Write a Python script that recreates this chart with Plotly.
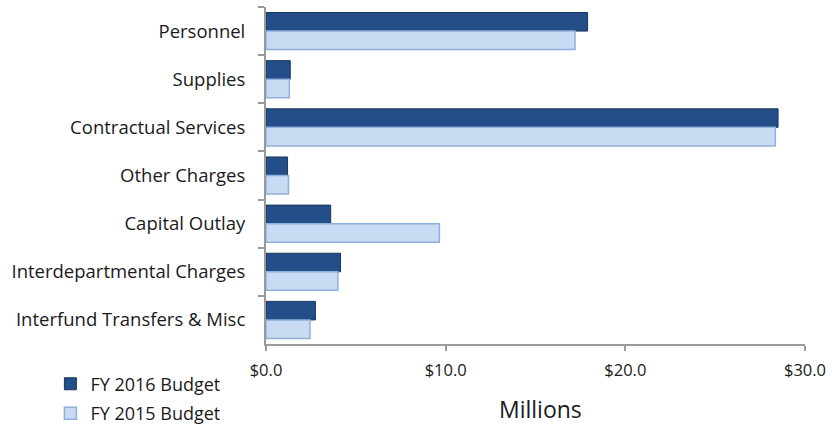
import plotly.graph_objects as go

# Budget categories (top to bottom) and amounts in millions of dollars
categories = [
    "Personnel",
    "Supplies",
    "Contractual Services",
    "Other Charges",
    "Capital Outlay",
    "Interdepartmental Charges",
    "Interfund Transfers & Misc",
]
fy2016 = [17.9, 1.35, 28.5, 1.2, 3.6, 4.15, 2.75]
fy2015 = [17.2, 1.3, 28.35, 1.25, 9.65, 4.0, 2.45]

x_ticks = [0, 10, 20, 30]
x_tick_text = [f"${v:.1f}" for v in x_ticks]

DARK = "#234E87"
DARK_EDGE = "#17365E"
LIGHT = "#C9DBF2"
LIGHT_EDGE = "#8EB0DC"
AXIS = "#9A9A9A"
FONT = "Open Sans"
TEXT = "#1a1a1a"

fig = go.Figure()
fig.add_trace(go.Bar(
    y=categories, x=fy2016, orientation="h", name="FY 2016 Budget",
    legendgroup="a",
    marker=dict(color=DARK, line=dict(color=DARK_EDGE, width=1)),
))
fig.add_trace(go.Bar(
    y=categories, x=fy2015, orientation="h", name="FY 2015 Budget",
    legendgroup="b",
    marker=dict(color=LIGHT, line=dict(color=LIGHT_EDGE, width=1.5)),
))

fig.update_layout(
    width=832, height=430,
    margin=dict(l=266, r=27, t=7, b=86, autoexpand=False),
    paper_bgcolor="white", plot_bgcolor="white",
    barmode="group", bargap=0.23, bargroupgap=0,
    font=dict(family=FONT, color=TEXT),
    showlegend=True,
    legend=dict(
        x=-0.40, y=-0.064, xanchor="left", yanchor="top",
        traceorder="grouped", tracegroupgap=3,
        font=dict(size=18, family=FONT, color=TEXT),
        bgcolor="rgba(0,0,0,0)",
    ),
    xaxis=dict(
        range=[0, 30], tickmode="array", tickvals=x_ticks, ticktext=x_tick_text,
        showgrid=False, zeroline=False, automargin=False,
        showline=True, linecolor=AXIS, linewidth=2,
        ticks="outside", ticklen=5, tickcolor=AXIS, tickwidth=1.5,
        ticklabelstandoff=5,
        tickfont=dict(size=16.5, family=FONT, color=TEXT),
    ),
    yaxis=dict(
        autorange="reversed", showgrid=False, zeroline=False, automargin=False,
        showline=True, linecolor=AXIS, linewidth=2,
        ticks="outside", ticklen=6, tickcolor=AXIS, tickwidth=1.5,
        tickson="boundaries", ticklabelstandoff=15,
        tickfont=dict(size=18.5, family=FONT, color=TEXT),
    ),
    annotations=[dict(
        text="Millions", x=0.51, y=-0.139, xref="paper", yref="paper",
        xanchor="center", yanchor="top", showarrow=False,
        font=dict(size=23, family=FONT, color=TEXT),
    )],
)

fig.write_html("out.html")
